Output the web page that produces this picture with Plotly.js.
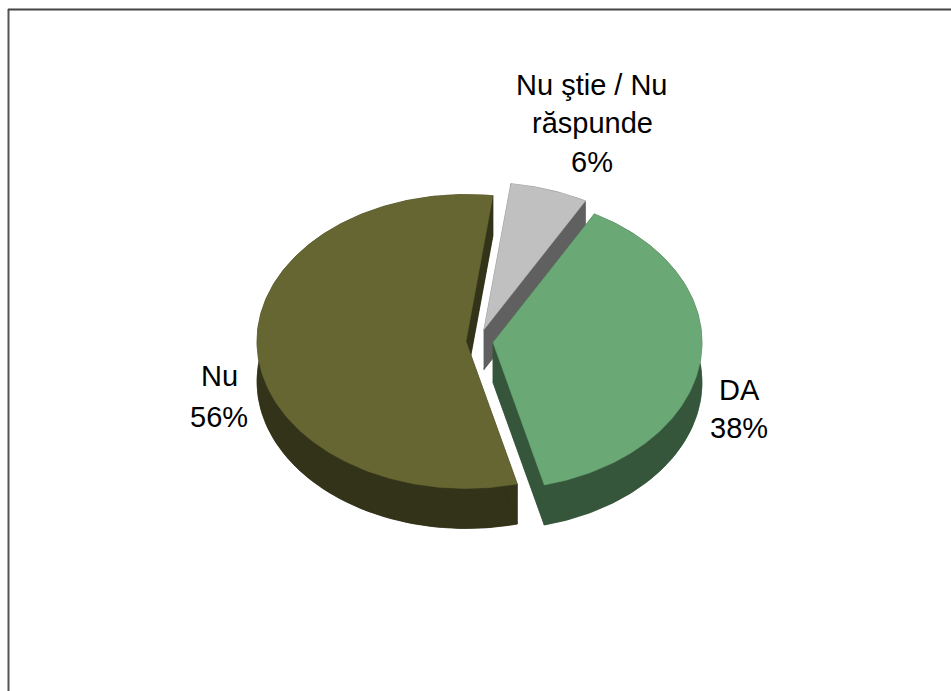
<!DOCTYPE html>
<html>
<head>
<meta charset="utf-8">
<script src="https://cdn.plot.ly/plotly-3.0.1.min.js"></script>
<style>html,body{margin:0;padding:0;background:#fff}#c{width:951px;height:691px}</style>
</head>
<body>
<div id="c"></div>
<script>
// Data
const categories = ["DA", "Nu", "Nu ştie / Nu<br>răspunde"];
const values = [38, 56, 6];
const percentLabels = ["38%", "56%", "6%"];

// Styling and layout of the tilted pie
const topColors = ["#6AA875", "#666633", "#C0C0C0"];
const sideColors = ["#36563B", "#333319", "#606060"];
const startAngle = 29;
const center = {x: 480, y: 339.5};
const radius = {x: 209, y: 147};
const depth = 40;
const explode = [{x: 13, y: 3}, {x: -14, y: 2}, {x: 4, y: -10}];
const drawOrder = [2, 1, 0];
const labelPos = [{x: 739, y: 409}, {x: 219, y: 396}, {x: 592, y: 123}];
const lineGap = [37.5, 41, 38.5];

const total = values.reduce((a, b) => a + b, 0);
const slices = [];
let cursor = startAngle;
values.forEach((v, i) => {
  const span = v / total * 360;
  slices.push({from: cursor, to: cursor + span});
  cursor += span;
});

function rim(i, deg, dy) {
  const t = deg * Math.PI / 180;
  return [center.x + explode[i].x + radius.x * Math.sin(t),
          center.y + explode[i].y + dy - radius.y * Math.cos(t)];
}
function arc(i, a, b, dy) {
  const pts = [];
  const n = Math.max(2, Math.ceil(Math.abs(b - a)));
  for (let k = 0; k <= n; k++) pts.push(rim(i, a + (b - a) * k / n, dy));
  return pts;
}
function tip(i, dy) {
  return [center.x + explode[i].x, center.y + explode[i].y + dy];
}
function polyTrace(p, color) {
  const x = p.map(q => q[0]).concat(p[0][0]);
  const y = p.map(q => q[1]).concat(p[0][1]);
  return {type: "scatter", mode: "lines", x, y, fill: "toself", fillcolor: color,
          line: {color, width: 0.5}, hoverinfo: "skip", showlegend: false};
}

const traces = [];
drawOrder.forEach(i => {
  const s = slices[i];
  const top = [tip(i, 0)].concat(arc(i, s.from, s.to, 0));
  const bottom = [tip(i, depth)].concat(arc(i, s.from, s.to, depth));
  const wall = arc(i, s.from, s.to, 0).concat(arc(i, s.to, s.from, depth));
  const cutA = [tip(i, 0), rim(i, s.from, 0), rim(i, s.from, depth), tip(i, depth)];
  const cutB = [tip(i, 0), rim(i, s.to, 0), rim(i, s.to, depth), tip(i, depth)];
  [bottom, wall, cutA, cutB].forEach(p => traces.push(polyTrace(p, sideColors[i])));
  traces.push(polyTrace(top, topColors[i]));
});

const annotations = [];
categories.forEach((c, i) => {
  const lines = c.split("<br>").concat(percentLabels[i]);
  lines.forEach((t, k) => annotations.push({
    x: labelPos[i].x, y: labelPos[i].y + (k - (lines.length - 1) / 2) * lineGap[i],
    xref: "x", yref: "y", text: t, showarrow: false,
    xanchor: "center", yanchor: "middle", align: "center",
    font: {family: "Liberation Sans, Arial, sans-serif", size: 29, color: "#000"}
  }));
});

const hidden = {visible: false, fixedrange: true};
const layout = {
  width: 951, height: 691,
  margin: {l: 0, r: 0, t: 0, b: 0},
  paper_bgcolor: "#fff", plot_bgcolor: "#fff",
  showlegend: false,
  xaxis: Object.assign({range: [0, 951]}, hidden),
  yaxis: Object.assign({range: [691, 0]}, hidden),
  annotations,
  shapes: [
    {type: "line", x0: 8.5, x1: 8.5, y0: 9, y1: 691, xref: "x", yref: "y", line: {color: "#555", width: 2}},
    {type: "line", x0: 8, x1: 951, y0: 9.5, y1: 9.5, xref: "x", yref: "y", line: {color: "#444", width: 2}}
  ]
};
Plotly.newPlot("c", traces, layout, {displayModeBar: false, staticPlot: true});
</script>
</body>
</html>
